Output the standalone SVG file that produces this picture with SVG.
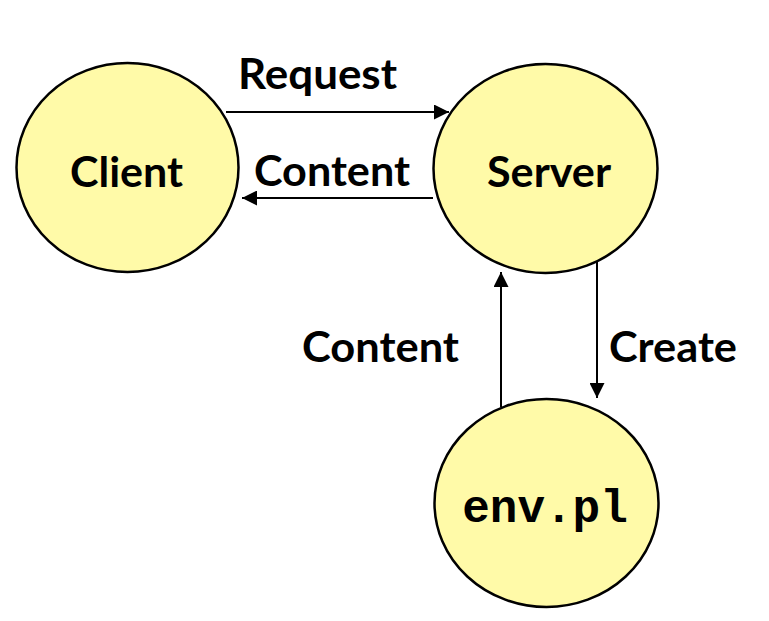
<svg xmlns="http://www.w3.org/2000/svg" width="769" height="621" viewBox="0 0 769 621">
<defs>
<style>
.node{fill:#FFFAA8;stroke:#000;stroke-width:2.5}
.lbl{font-family:Lato,"Open Sans","Liberation Sans",sans-serif;font-weight:bold;font-size:42px;fill:#000}
.mono{font-family:"Liberation Mono","Courier New",monospace;font-weight:bold;font-size:46px;fill:#000}
.edge{stroke:#000;stroke-width:2;fill:none;marker-end:url(#ah)}
</style>
<marker id="ah" viewBox="0 0 10 10" refX="10" refY="5" markerWidth="7.5" markerHeight="7.5" orient="auto" markerUnits="strokeWidth">
<path d="M0,0 L10,5 L0,10 z" fill="#000"/>
</marker>
</defs>
<rect width="769" height="621" fill="#fff"/>
<g id="connectors">
<line class="edge" x1="226" y1="112" x2="449" y2="112"/>
<line class="edge" x1="433" y1="198" x2="242" y2="198"/>
<line class="edge" x1="501" y1="407" x2="501" y2="272"/>
<line class="edge" x1="597" y1="255" x2="597" y2="398"/>
<text class="lbl" x="238" y="89" textLength="159" lengthAdjust="spacingAndGlyphs">Request</text>
<text class="lbl" x="254" y="186" textLength="156" lengthAdjust="spacingAndGlyphs">Content</text>
<text class="lbl" x="302" y="362" textLength="157" lengthAdjust="spacingAndGlyphs">Content</text>
<text class="lbl" x="609" y="362" textLength="128" lengthAdjust="spacingAndGlyphs">Create</text>
</g>
<g id="client">
<ellipse class="node" cx="127.5" cy="167.5" rx="111" ry="104.5"/>
<text class="lbl" x="70" y="187" textLength="113" lengthAdjust="spacingAndGlyphs">Client</text>
</g>
<g id="server">
<ellipse class="node" cx="545.5" cy="168.5" rx="112" ry="104.5"/>
<text class="lbl" x="487" y="187" textLength="124" lengthAdjust="spacingAndGlyphs">Server</text>
</g>
<g id="envpl">
<ellipse class="node" cx="546.5" cy="503" rx="112" ry="104"/>
<text class="mono" x="545" y="522" text-anchor="middle">env.pl</text>
</g>
</svg>
